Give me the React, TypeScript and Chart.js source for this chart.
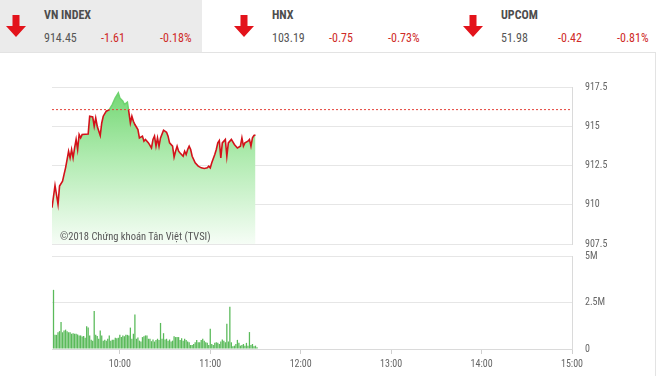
import React, { useEffect, useRef } from 'react';
import { Chart, registerables } from 'chart.js';

Chart.register(...registerables);

// ---------- data ----------
const indexNames = ['VN INDEX', 'HNX', 'UPCOM'];
const indexValues = ['914.45', '103.19', '51.98'];
const indexChanges = ['-1.61', '-0.75', '-0.42'];
const indexPercents = ['-0.18%', '-0.73%', '-0.81%'];

const axisStart = '09:15';
const axisEnd = '15:00';
const timeTicks = ['10:00', '11:00', '12:00', '13:00', '14:00', '15:00'];

const referenceValue = 916.06;
const priceTicks = [907.5, 910, 912.5, 915, 917.5];
const volumeTicks = [0, 2500000, 5000000];

const priceTimes = [
  '09:15', '09:17', '09:19', '09:20', '09:22', '09:23', '09:24', '09:25', '09:26', '09:27',
  '09:28', '09:29', '09:30', '09:31', '09:32', '09:33', '09:34', '09:35', '09:39', '09:40',
  '09:42', '09:43', '09:44', '09:45', '09:47', '09:48', '09:49', '09:51', '09:53', '09:55',
  '09:57', '09:59', '10:00', '10:02', '10:03', '10:05', '10:06', '10:07', '10:08', '10:09',
  '10:10', '10:12', '10:13', '10:15', '10:16', '10:17', '10:19', '10:21', '10:22', '10:23',
  '10:24', '10:25', '10:26', '10:27', '10:29', '10:31', '10:32', '10:33', '10:35', '10:36',
  '10:37', '10:38', '10:39', '10:40', '10:42', '10:43', '10:44', '10:45', '10:46', '10:47',
  '10:48', '10:50', '10:52', '10:54', '10:56', '10:58', '10:59', '11:00', '11:01', '11:03',
  '11:04', '11:05', '11:06', '11:07', '11:08', '11:10', '11:11', '11:12', '11:14', '11:16',
  '11:17', '11:18', '11:20', '11:21', '11:22', '11:23', '11:25', '11:26', '11:27', '11:28',
  '11:29', '11:30',
];
const priceValues = [
  909.81, 911.23, 910.03, 911.19, 911.5, 911.93, 912.35, 912.88, 913.41, 912.99,
  913.52, 912.99, 913.62, 914.16, 913.52, 914.47, 914.26, 914.47, 914.51, 915.64,
  915.59, 915.0, 915.53, 915.0, 914.41, 915.21, 915.64, 915.96, 916.06, 916.38,
  916.8, 917.12, 916.8, 916.59, 916.38, 916.53, 915.9, 915.21, 915.64, 915.32,
  915.11, 914.79, 914.26, 914.37, 914.05, 914.16, 913.94, 913.62, 914.16, 914.37,
  913.73, 914.26, 913.73, 914.26, 914.75, 914.62, 914.37, 913.94, 913.73, 913.03,
  913.41, 913.73, 913.41, 913.3, 913.09, 913.41, 913.2, 913.52, 913.73, 913.52,
  913.09, 912.67, 912.46, 912.35, 912.31, 912.35, 912.46, 912.35, 912.67, 913.2,
  913.52, 913.94, 914.09, 912.99, 913.94, 914.16, 913.09, 913.94, 914.16, 913.84,
  913.73, 913.62, 913.73, 914.26, 913.73, 913.94, 914.05, 914.16, 913.73, 914.26,
  914.41, 914.45,
];

// one bar per minute, first bar at volumeStart (values in millions of shares)
const volumeStart = '09:16';
const volumeValues = [
  3.18, 0.76, 0.76, 0.9, 0.96, 1.45, 0.9, 1.0, 1.04, 0.95,
  0.9, 0.9, 0.82, 0.85, 0.82, 0.82, 0.78, 0.73, 0.73, 0.67,
  0.7, 0.6, 1.22, 1.15, 0.73, 0.5, 0.45, 2.04, 0.76, 0.7,
  0.55, 1.0, 0.73, 0.45, 0.5, 0.45, 0.55, 0.73, 0.45, 0.5,
  0.5, 0.6, 0.58, 0.6, 0.76, 0.64, 0.73, 0.69, 0.76, 0.76,
  0.73, 1.15, 0.55, 0.82, 1.85, 0.55, 0.62, 0.45, 0.4, 0.64,
  0.69, 0.73, 0.73, 0.55, 0.55, 0.42, 0.51, 0.4, 0.49, 0.55,
  0.49, 1.4, 0.55, 0.85, 0.51, 0.55, 0.45, 0.51, 0.4, 0.45,
  0.69, 0.64, 0.64, 0.64, 0.49, 0.58, 0.45, 0.55, 0.49, 0.4,
  0.36, 0.22, 0.22, 0.27, 0.36, 0.49, 0.36, 0.36, 0.49, 0.55,
  0.45, 0.36, 0.33, 0.22, 1.09, 0.27, 0.22, 0.33, 0.36, 0.33,
  0.27, 0.4, 0.51, 0.45, 0.36, 1.36, 0.4, 2.27, 0.36, 0.15,
  0.18, 0.27, 0.49, 0.33, 0.18, 0.22, 0.27, 0.18, 0.33, 0.18,
  0.91, 0.22, 0.27, 0.15, 0.18, 0.09,
];

// ---------- helpers ----------
const toMin = (t: string) => {
  const [h, m] = t.split(':').map(Number);
  return h * 60 + m;
};
const fmtTime = (v: number) =>
  `${String(Math.floor(v / 60)).padStart(2, '0')}:${String(Math.round(v % 60)).padStart(2, '0')}`;

const NARROW = "'Roboto Condensed','Liberation Sans Narrow','Arial Narrow',Roboto,sans-serif";
const RED_LINE = '#d3121a';
const GREEN_LINE = '#6fd36f';
const CLEAR = 'rgba(0,0,0,0)';

function PriceChart() {
  const ref = useRef<HTMLCanvasElement | null>(null);
  useEffect(() => {
    if (!ref.current) return;
    const lineColor = (c: any) => {
      const chart = c.chart;
      const { chartArea, scales } = chart;
      if (!chartArea || !scales.y) return RED_LINE;
      const y = scales.y.getPixelForValue(referenceValue);
      const f = Math.min(Math.max((y - chartArea.top) / (chartArea.bottom - chartArea.top), 0), 1);
      const g = chart.ctx.createLinearGradient(0, chartArea.top, 0, chartArea.bottom);
      g.addColorStop(0, GREEN_LINE);
      g.addColorStop(f, GREEN_LINE);
      g.addColorStop(f, RED_LINE);
      g.addColorStop(1, RED_LINE);
      return g;
    };
    const fillColor = (c: any) => {
      const chart = c.chart;
      const { chartArea } = chart;
      if (!chartArea) return 'rgba(120,210,120,0.5)';
      const g = chart.ctx.createLinearGradient(0, chartArea.top, 0, chartArea.bottom);
      g.addColorStop(0, '#70d670');
      g.addColorStop(0.45, '#b0ebb0');
      g.addColorStop(1, '#f6fdf6');
      return g;
    };
    const chart = new Chart(ref.current, {
      type: 'line',
      data: {
        datasets: [
          {
            data: [
              { x: toMin(axisStart), y: referenceValue },
              { x: toMin(axisEnd), y: referenceValue },
            ],
            borderColor: '#e5413a',
            borderWidth: 1,
            borderDash: [2, 2],
            pointRadius: 0,
            fill: false,
          },
          {
            data: priceTimes.map((t, i) => ({ x: toMin(t), y: priceValues[i] })),
            borderColor: lineColor,
            backgroundColor: fillColor,
            fill: 'start',
            borderWidth: 1.6,
            pointRadius: 0,
            tension: 0,
          },
        ],
      },
      options: {
        animation: false,
        responsive: false,
        maintainAspectRatio: false,
        layout: { padding: { left: 52, top: 27, bottom: 8, right: 0 } },
        plugins: { legend: { display: false }, tooltip: { enabled: false } },
        scales: {
          x: { type: 'linear', min: toMin(axisStart), max: toMin(axisEnd), display: false },
          y: {
            position: 'right',
            min: priceTicks[0],
            max: priceTicks[priceTicks.length - 1],
            afterBuildTicks: (s: any) => {
              s.ticks = priceTicks.map((v) => ({ value: v }));
            },
            afterFit: (s: any) => {
              s.width = 88;
            },
            grid: { color: '#e6e6e6', drawTicks: true, tickLength: 13, tickColor: CLEAR },
            border: { display: true, color: '#dadada' },
            ticks: {
              padding: 0,
              color: '#666',
              font: { family: NARROW, size: 10 },
              callback: (v: any) => String(v),
            },
          },
        },
      },
    } as any);
    return () => chart.destroy();
  }, []);
  return (
    <canvas
      ref={ref}
      width={660}
      height={192}
      style={{ position: 'absolute', left: 0, top: 60, width: 660, height: 192, display: 'block' }}
    />
  );
}

function VolumeChart() {
  const ref = useRef<HTMLCanvasElement | null>(null);
  useEffect(() => {
    if (!ref.current) return;
    const start = toMin(volumeStart);
    const chart = new Chart(ref.current, {
      type: 'bar',
      data: {
        datasets: [
          {
            data: volumeValues.map((v, i) => ({ x: start + i, y: v * 1e6 })),
            backgroundColor: '#5aba5a',
            borderWidth: 0,
            barPercentage: 0.85,
            categoryPercentage: 1,
          },
        ],
      },
      options: {
        animation: false,
        responsive: false,
        maintainAspectRatio: false,
        layout: { padding: { left: 52, top: 8, bottom: 0, right: 0 } },
        plugins: { legend: { display: false }, tooltip: { enabled: false } },
        scales: {
          x: {
            type: 'linear',
            min: toMin(axisStart),
            max: toMin(axisEnd),
            offset: false,
            afterBuildTicks: (s: any) => {
              s.ticks = timeTicks.map((t) => ({ value: toMin(t) }));
            },
            afterFit: (s: any) => {
              s.height = 27;
            },
            grid: { offset: false, drawOnChartArea: false, drawTicks: true, tickLength: 5, color: '#cfcfcf' },
            border: { display: true, color: '#dadada' },
            ticks: {
              autoSkip: false,
              maxRotation: 0,
              padding: 4,
              color: '#666',
              font: { family: NARROW, size: 10 },
              callback: (v: any) => fmtTime(Number(v)),
            },
          },
          y: {
            position: 'right',
            min: volumeTicks[0],
            max: volumeTicks[volumeTicks.length - 1],
            afterBuildTicks: (s: any) => {
              s.ticks = volumeTicks.map((v) => ({ value: v }));
            },
            afterFit: (s: any) => {
              s.width = 88;
            },
            grid: { color: '#e6e6e6', drawTicks: true, tickLength: 13, tickColor: CLEAR },
            border: { display: true, color: '#dadada' },
            ticks: {
              padding: 0,
              color: '#666',
              font: { family: NARROW, size: 10 },
              callback: (v: any) => (Number(v) === 0 ? '0' : `${Number(v) / 1e6}M`),
            },
          },
        },
      },
    } as any);
    return () => chart.destroy();
  }, []);
  return (
    <canvas
      ref={ref}
      width={660}
      height={128}
      style={{ position: 'absolute', left: 0, top: 248, width: 660, height: 128, display: 'block' }}
    />
  );
}

function DownArrow({ left }: { left: number }) {
  return (
    <svg
      width={20}
      height={22}
      viewBox="0 0 20 22"
      style={{ position: 'absolute', left, top: 15 }}
    >
      <path d="M6.5 0 H13.5 V11 H20 L10 22 L0 11 H6.5 Z" fill="#e3131b" />
    </svg>
  );
}

export default function App() {
  const groupOffsets = [0, 228, 457];
  return (
    <div
      style={{
        position: 'absolute',
        left: 0,
        top: 0,
        width: 660,
        height: 376,
        overflow: 'hidden',
        background: '#fff',
        fontFamily: NARROW,
      }}
    >
      <div style={{ position: 'absolute', left: 0, top: 0, width: 202, height: 52, background: '#ebebeb' }} />
      <div
        style={{
          position: 'absolute',
          left: -1,
          top: 52,
          width: 657,
          height: 340,
          border: '1px solid #e3e3e3',
          boxSizing: 'border-box',
        }}
      />
      {indexNames.map((name, i) => {
        const o = groupOffsets[i];
        return (
          <React.Fragment key={name}>
            <DownArrow left={o + 6} />
            <div
              style={{
                position: 'absolute',
                left: o + 44,
                top: 8,
                fontSize: 12,
                lineHeight: '14px',
                fontWeight: 'bold',
                color: '#4d4d4d',
                whiteSpace: 'nowrap',
              }}
            >
              {name}
            </div>
            <div style={{ position: 'absolute', left: o + 44, top: 31, fontSize: 12, lineHeight: '14px', color: '#555', whiteSpace: 'nowrap' }}>
              {indexValues[i]}
            </div>
            <div style={{ position: 'absolute', left: o + 101, top: 31, fontSize: 12, lineHeight: '14px', color: '#cf2a27', whiteSpace: 'nowrap' }}>
              {indexChanges[i]}
            </div>
            <div style={{ position: 'absolute', left: o + 160, top: 31, fontSize: 12, lineHeight: '14px', color: '#cf2a27', whiteSpace: 'nowrap' }}>
              {indexPercents[i]}
            </div>
          </React.Fragment>
        );
      })}
      <PriceChart />
      <VolumeChart />
      <div
        style={{
          position: 'absolute',
          left: 60,
          top: 230,
          fontSize: 10.5,
          lineHeight: '13px',
          color: '#555',
          whiteSpace: 'nowrap',
        }}
      >
        ©2018 Chứng khoán Tân Việt (TVSI)
      </div>
    </div>
  );
}
